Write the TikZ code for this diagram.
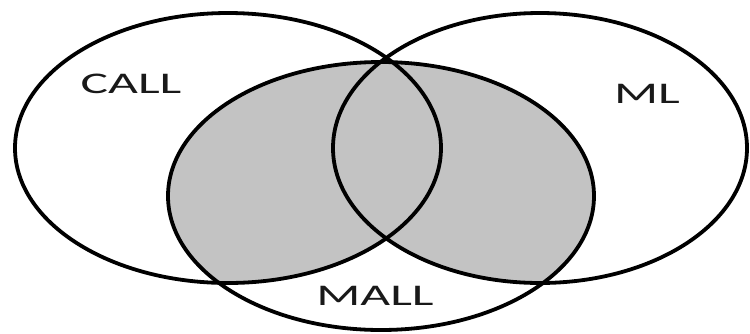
\documentclass[tikz,border=0pt]{standalone}
\usepackage{fontspec}
\setmainfont{Carlito}
\tikzset{
  ring/.style={draw=black, line width=3.8pt},
  setlabel/.style={anchor=base, inner sep=0pt, font=\fontsize{30}{30}\selectfont, xscale=1.72, text=black!90}
}
\definecolor{mallgray}{RGB}{195,195,195}
\begin{document}
\begin{tikzpicture}[x=1pt, y=-1pt]
\useasboundingbox (0,0) rectangle (750,333);
\fill[white] (0,0) rectangle (750,333);
% shaded region: MALL intersected with (CALL or ML)
\begin{scope}
  \clip (381,196) ellipse [x radius=213pt, y radius=134pt];
  \fill[mallgray] (228,148) ellipse [x radius=213pt, y radius=135pt];
  \fill[mallgray] (540,148) ellipse [x radius=207pt, y radius=135pt];
\end{scope}
\draw[ring] (228,148) ellipse [x radius=213pt, y radius=135pt];
\draw[ring] (540,148) ellipse [x radius=207pt, y radius=135pt];
\draw[ring] (381,196) ellipse [x radius=213pt, y radius=134pt];
\node[setlabel] (call) at (131,93) {CALL};
\node[setlabel] (ml) at (647,103) {ML};
\node[setlabel] (mall) at (375,305) {MALL};
\end{tikzpicture}
\end{document}
